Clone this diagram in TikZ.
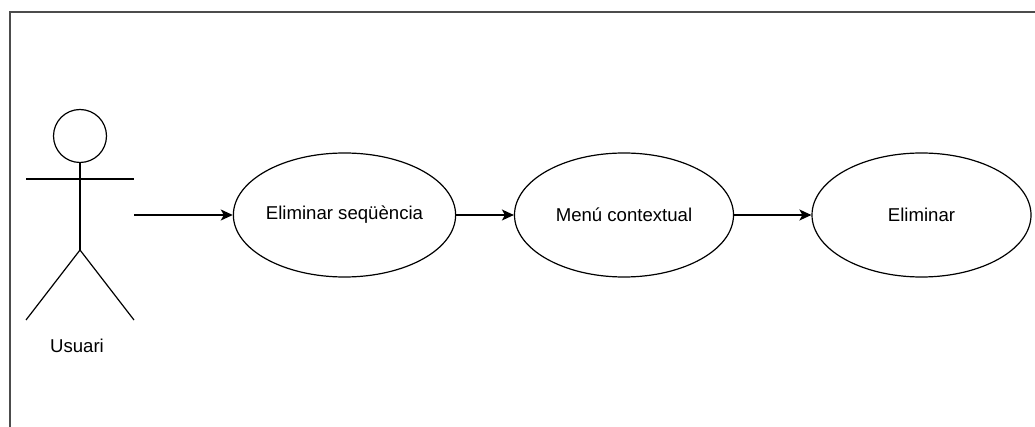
\documentclass[tikz,border=0pt]{standalone}
\usepackage{fontspec}
\setmainfont{Liberation Sans}
\usetikzlibrary{shapes.geometric,arrows.meta}
\tikzset{
  usecase/.style={draw, ellipse, line width=1.2pt, minimum width=219pt,
    minimum height=124pt, inner sep=0pt, font=\fontsize{18.6}{22}\selectfont},
  link/.style={line width=1.3pt, -{Stealth[length=12pt,width=11pt,inset=3pt]}},
  stick/.style={line width=1.2pt}
}
\begin{document}
\begin{tikzpicture}[x=1pt,y=-1pt]
  \useasboundingbox (0,0) rectangle (1035,427);
  % frame
  \draw[line width=2pt, black!70] (10,427) -- (10,12) -- (1035,12);
  % actor
  \node[stick, draw, circle, minimum size=53pt, inner sep=0pt] (head) at (80,136) {};
  \coordinate (hip) at (80,250);
  \coordinate (armL) at (26,179);
  \coordinate (armR) at (134,179);
  \coordinate (footL) at (26,320);
  \coordinate (footR) at (134,320);
  \draw[stick] (head.south) -- (hip);
  \draw[stick] (armL) -- (armR);
  \draw[stick] (footL) -- (hip) -- (footR);
  \node[font=\fontsize{18.6}{22}\selectfont] (actor) at (77,346) {Usuari};
  % use cases
  \coordinate (src) at (134,215);
  \node[usecase] (seq) at (344.5,215) {Eliminar seqüència};
  \node[usecase] (menu) at (624,215) {Menú contextual};
  \node[usecase] (del) at (921.5,215) {Eliminar};
  \draw[link] (src) -- (seq);
  \draw[link] (seq) -- (menu);
  \draw[link] (menu) -- (del);
\end{tikzpicture}
\end{document}
